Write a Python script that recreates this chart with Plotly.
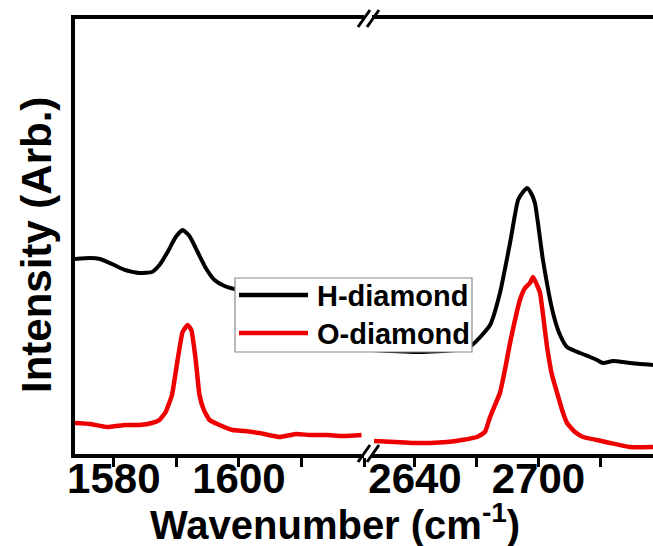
import plotly.graph_objects as go

# ---- data ----
# H-diamond, first window (G band region)
h_wn_1 = [1573.8, 1576.2, 1577.8, 1579.7, 1581.8, 1584.1, 1586.1, 1587.3, 1588.6, 1589.9,
          1591.0, 1592.1, 1593.4, 1594.7, 1596.1, 1597.7, 1599.3, 1603.3, 1609.7, 1616.0, 1619.9]
h_int_1 = [195, 196, 195, 190, 184, 181, 182, 189, 202, 217,
           224, 218, 202, 186, 174, 168, 165, 162, 160, 159, 158]
# H-diamond, second window (2D band region)
h_wn_2 = [2619.1, 2642.4, 2659.4, 2667.7, 2676.5, 2681.3, 2686.2, 2690.1, 2692.5, 2694.5,
          2696.4, 2698.3, 2702.2, 2707.1, 2710.5, 2713.9, 2720.2, 2725.1, 2728.5, 2731.4,
          2736.3, 2744.5, 2755.7]
h_int_2 = [104, 102, 104, 109, 129, 161, 211, 254, 262, 266,
           261, 251, 194, 141, 119, 107, 101, 97, 94, 91,
           93, 91, 89]
# O-diamond, first window
o_wn_1 = [1573.8, 1576.2, 1578.9, 1581.8, 1584.1, 1586.1, 1587.3, 1588.3, 1589.3, 1590.2,
          1591.0, 1591.8, 1592.4, 1593.1, 1593.7, 1594.4, 1595.3, 1596.9, 1599.0, 1600.9,
          1603.3, 1606.5, 1609.2, 1611.3, 1614.0, 1616.8, 1619.6]
o_int_1 = [31, 30, 27, 29, 29, 31, 34, 42, 59, 94,
           122, 129, 124, 94, 59, 44, 34, 29, 24, 23,
           21, 17, 20, 19, 19, 18, 19]
# O-diamond, second window
o_wn_2 = [2620.1, 2630.3, 2639.0, 2647.3, 2655.6, 2662.8, 2670.1, 2674.0, 2676.5, 2678.9,
          2681.3, 2683.7, 2686.2, 2688.6, 2691.0, 2693.5, 2695.9, 2697.4, 2699.3, 2700.8,
          2704.2, 2706.6, 2709.1, 2711.5, 2713.9, 2717.8, 2721.7, 2728.5, 2734.8, 2744.5, 2755.7]
o_int_2 = [13, 12, 11, 11, 12, 14, 17, 22, 37, 49,
           61, 84, 111, 134, 154, 166, 171, 177, 169, 161,
           107, 79, 61, 44, 31, 22, 17, 14, 11, 7, 7]

series_names = ["H-diamond", "O-diamond"]
series_colors = ["#000000", "#ee0000"]

tick_vals_1 = [1580, 1600]
tick_vals_2 = [2640, 2700]
x_title = "Wavenumber (cm<sup>-1</sup>)"
y_title = "Intensity (Arb.)"

# ---- layout geometry ----
W, H = 653, 546
ML, MR, MT, MB = 75, 0, 19, 92
PW, PH = W - ML - MR, H - MT - MB


def px(x):
    return (x - ML) / PW


def py(y):
    return (H - MB - y) / PH


FONT = "Arial, Liberation Sans, sans-serif"

fig = go.Figure()
fig.add_trace(go.Scatter(x=h_wn_1, y=h_int_1, mode="lines", name=series_names[0],
                         line=dict(color=series_colors[0], width=4, shape="spline", smoothing=0.5),
                         xaxis="x", yaxis="y", showlegend=False))
fig.add_trace(go.Scatter(x=h_wn_2, y=h_int_2, mode="lines", name=series_names[0],
                         line=dict(color=series_colors[0], width=4, shape="spline", smoothing=0.5),
                         xaxis="x2", yaxis="y", showlegend=False))
fig.add_trace(go.Scatter(x=o_wn_1, y=o_int_1, mode="lines", name=series_names[1],
                         line=dict(color=series_colors[1], width=4.5, shape="spline", smoothing=0.4),
                         xaxis="x", yaxis="y", showlegend=False))
fig.add_trace(go.Scatter(x=o_wn_2, y=o_int_2, mode="lines", name=series_names[1],
                         line=dict(color=series_colors[1], width=4.5, shape="spline", smoothing=0.4),
                         xaxis="x2", yaxis="y", showlegend=False))

axis_common = dict(
    showline=True, linewidth=4, linecolor="black", mirror=True,
    ticks="outside", ticklen=9, tickwidth=3, tickcolor="black",
    ticklabelstandoff=-24,
    showgrid=False, zeroline=False,
    tickfont=dict(family=FONT, size=42, color="black", weight="bold"),
)

fig.update_layout(
    width=W, height=H,
    margin=dict(l=ML, r=MR, t=MT, b=MB, pad=0),
    paper_bgcolor="white", plot_bgcolor="white",
    xaxis=dict(domain=[0, px(364)], range=[1573.8, 1620.0], tickvals=tick_vals_1,
               minor=dict(dtick=10, tick0=1580, ticks="outside", ticklen=9, tickwidth=3, tickcolor="black"),
               anchor="y", **axis_common),
    xaxis2=dict(domain=[px(372), 1], range=[2619.1, 2755.7], tickvals=tick_vals_2,
                minor=dict(dtick=30, tick0=2640, ticks="outside", ticklen=9, tickwidth=3, tickcolor="black"),
                anchor="y", **axis_common),
    yaxis=dict(domain=[0, 1], range=[0, 435], showline=True, linewidth=4, linecolor="black",
               mirror=False, ticks="", showticklabels=False, showgrid=False, zeroline=False),
    showlegend=False,
)

shapes = []
# axis break marks (top and bottom)
for ybase in (H - MB, MT):
    for x0 in (358, 367):
        shapes.append(dict(type="line", xref="paper", yref="paper",
                           x0=px(x0), y0=py(ybase + 8), x1=px(x0 + 12), y1=py(ybase - 9),
                           line=dict(color="black", width=3)))

# legend box drawn above the curves
LX0, LX1, LY0, LY1 = 235, 472, 278, 352
shapes.append(dict(type="rect", xref="paper", yref="paper", layer="above",
                   x0=px(LX0), x1=px(LX1), y0=py(LY1), y1=py(LY0),
                   fillcolor="white", line=dict(color="#8a8a8a", width=1.2)))
legend_rows_y = [295, 333]
for name, color, ry in zip(series_names, series_colors, legend_rows_y):
    shapes.append(dict(type="line", xref="paper", yref="paper", layer="above",
                       x0=px(239), x1=px(308), y0=py(ry), y1=py(ry),
                       line=dict(color=color, width=4.5)))
fig.update_layout(shapes=shapes)

annotations = []
for name, ry in zip(series_names, legend_rows_y):
    annotations.append(dict(text=name, xref="paper", yref="paper", x=px(315), y=py(ry + 1),
                            xanchor="left", yanchor="middle", showarrow=False,
                            font=dict(family=FONT, size=29, color="black", weight="bold")))
annotations.append(dict(text=x_title, xref="paper", yref="paper", x=px(335), y=py(495),
                        xanchor="center", yanchor="top", showarrow=False,
                        font=dict(family=FONT, size=40, color="black", weight="bold")))
annotations.append(dict(text=y_title, xref="paper", yref="paper", x=px(36), y=py(245),
                        xanchor="center", yanchor="middle", textangle=-90, showarrow=False,
                        font=dict(family=FONT, size=42, color="black", weight="bold")))
fig.update_layout(annotations=annotations)

fig.write_html("out.html")
